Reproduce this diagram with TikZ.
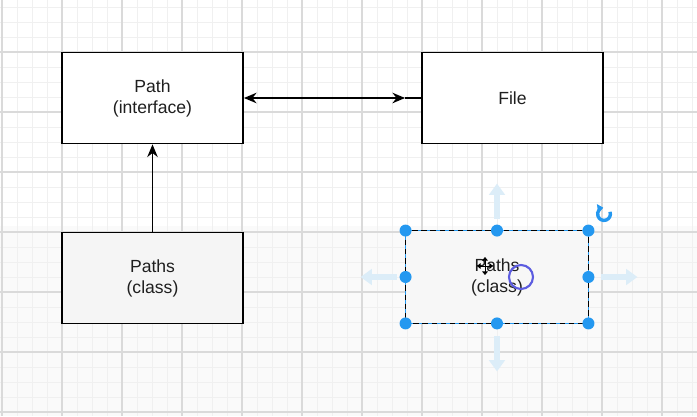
\documentclass[tikz,border=0pt]{standalone}
\usepackage{fontspec}
\setmainfont{Liberation Sans}
\usepackage{tikz}
\usetikzlibrary{positioning,calc,arrows.meta}

\definecolor{gridmajor}{RGB}{218,218,218}
\definecolor{gridminor}{RGB}{240,240,240}
\definecolor{handleblue}{RGB}{36,152,240}
\definecolor{ghostblue}{RGB}{220,237,248}
\definecolor{cursorviolet}{RGB}{92,92,224}

\tikzset{
    classbox/.style={draw=black, line width=1.3pt, fill=white, minimum width=4.525cm,
        minimum height=2.275cm, inner sep=0pt, align=center,
        font=\fontsize{12.5}{15}\selectfont, text=black!88},
    handle/.style={circle, fill=handleblue, inner sep=0pt, minimum size=0.3cm},
    ghostarrow/.style={ghostblue, line width=4.2pt, -{Triangle[width=11pt,length=8pt]}},
    link/.style={line width=1.1pt}
}

\begin{document}
\begin{tikzpicture}[x=0.025cm, y=-0.025cm]
    \useasboundingbox (0,0) rectangle (697,416);

    % Canvas
    \fill[white] (0,0) rectangle (697,416);
    \fill[black!2] (0,226) rectangle (697,416);

    % Grid
    \foreach \x in {2,17,...,697} {
        \draw[gridminor, line width=0.6pt] (\x,0) -- (\x,416);
    }
    \foreach \y in {7,22,...,416} {
        \draw[gridminor, line width=0.6pt] (0,\y) -- (697,\y);
    }
    \foreach \x in {2,62,...,697} {
        \draw[gridmajor, line width=1.4pt] (\x,0) -- (\x,416);
    }
    \foreach \y in {52,112,...,416} {
        \draw[gridmajor, line width=1.4pt] (0,\y) -- (697,\y);
    }

    % Boxes
    \node[classbox] (pathif) at (152.5,98) {Path\\(interface)};
    \node[classbox] (file) at (512.5,98) {File};
    \node[classbox, fill=black!4] (paths) at (152.5,278) {Paths\\(class)};
    \node[classbox, draw=none, fill=black!3] (pathssel) at (497,277) {Paths\\(class)};

    % Connectors
    \coordinate (tipfile) at ($(file.west)+(-16,0)$);
    \draw[link, {Stealth[length=9pt,width=7.5pt]}-{Stealth[length=9pt,width=7.5pt]}] (pathif.east) -- (tipfile);
    \draw[link] (tipfile) -- (file.west);
    \draw[link, -{Stealth[length=9pt,width=7.5pt]}] (paths.north) -- (pathif.south);

    % Selection frame
    \draw[handleblue, line width=1pt] (pathssel.north west) rectangle (pathssel.south east);
    \draw[black, line width=1pt, dash pattern=on 4pt off 2.5pt] (pathssel.north west) rectangle (pathssel.south east);

    % Hover arrows
    \coordinate (gl1) at ($(pathssel.west)+(-9,0)$);
    \coordinate (gl2) at ($(pathssel.west)+(-45,0)$);
    \coordinate (gr1) at ($(pathssel.east)+(13,0)$);
    \coordinate (gr2) at ($(pathssel.east)+(49,0)$);
    \coordinate (gt1) at ($(pathssel.north)+(0,-12)$);
    \coordinate (gt2) at ($(pathssel.north)+(0,-47)$);
    \coordinate (gb1) at ($(pathssel.south)+(0,13)$);
    \coordinate (gb2) at ($(pathssel.south)+(0,48)$);
    \draw[ghostarrow] (gl1) -- (gl2);
    \draw[ghostarrow] (gr1) -- (gr2);
    \draw[ghostarrow] (gt1) -- (gt2);
    \draw[ghostarrow] (gb1) -- (gb2);

    % Handles
    \foreach \a/\n in {north west/nw, north/n, north east/ne, west/w, east/e, south west/sw, south/s, south east/se} {
        \node[handle] (h\n) at (pathssel.\a) {};
    }

    % Rotate handle
    \coordinate (rot) at (604,214);
    \draw[handleblue, line width=2.4pt, -{Triangle[length=4pt,width=6pt]}]
        ($(rot)+(20:0.16cm)$) arc[start angle=20, end angle=-262, radius=0.16cm];

    % Pointer
    \node[circle, draw=cursorviolet, line width=1.5pt, minimum size=0.6cm, inner sep=0pt] (cursor) at (521,277) {};
    \coordinate (move) at (485,266);
    \draw[line width=0.6pt, {Triangle[length=2.5pt,width=4pt]}-{Triangle[length=2.5pt,width=4pt]}]
        ($(move)+(-8,0)$) -- ($(move)+(8,0)$);
    \draw[line width=0.6pt, {Triangle[length=2.5pt,width=4pt]}-{Triangle[length=2.5pt,width=4pt]}]
        ($(move)+(0,-9)$) -- ($(move)+(0,9)$);
\end{tikzpicture}
\end{document}
